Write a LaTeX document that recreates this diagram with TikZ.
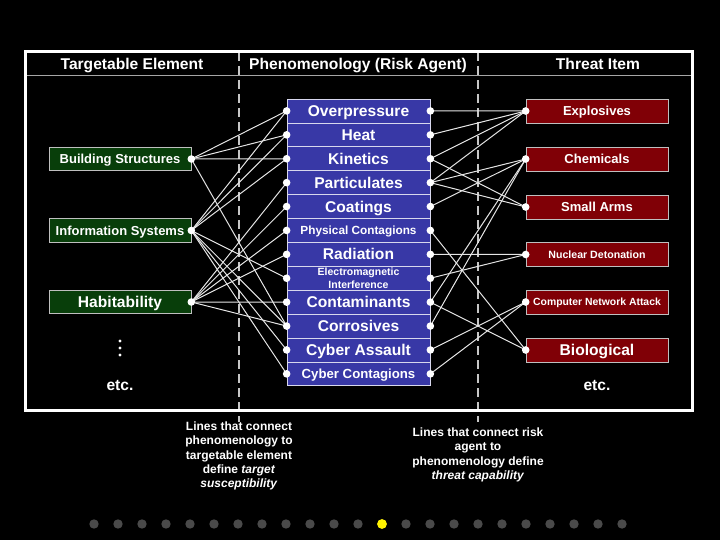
\documentclass[tikz,border=0pt]{standalone}
\usepackage{fontspec}
\setmainfont{Liberation Sans}
\definecolor{phblue}{RGB}{56,56,166}
\definecolor{tgreen}{RGB}{8,62,10}
\definecolor{tred}{RGB}{128,0,6}
\definecolor{dotgray}{RGB}{74,74,74}
\begin{document}
\begin{tikzpicture}[x=1pt,y=-1pt,
  fs/.style={font=\fontsize{#1}{#1}\selectfont\bfseries, text height=0.72*#1pt, text depth=0pt},
  cell/.style={draw=white!80!phblue, line width=0.7pt, fill=phblue, minimum width=143pt, minimum height=23.9pt, inner sep=0pt, text=white, align=center},
  tgt/.style={draw=white!75!black, line width=0.6pt, fill=tgreen, minimum width=142pt, minimum height=23.5pt, inner sep=0pt, text=white},
  thr/.style={draw=white!75!black, line width=0.6pt, fill=tred, minimum width=142pt, minimum height=24pt, inner sep=0pt, text=white},
  link/.style={draw=white!90!black, line width=1pt},
  hdr/.style={text=white, fs=15.6},
  note/.style={text=white, align=center, font=\fontsize{12}{14.3}\selectfont\bfseries},
  sep/.style={draw=white!78!black, line width=1.1pt, dash pattern=on 9pt off 5pt}
]
\useasboundingbox[fill=black] (0,0) rectangle (720,540);

% frame
\draw[white!65!black, line width=0.9pt] (25,75) -- (692,75);
\draw[sep] (239,52) -- (239,422);
\draw[sep] (478,52) -- (478,422);
\draw[white, line width=3pt] (25,52) rectangle (692,410);

% headers
\node[hdr] (h1) at (132,63.5) {Targetable Element};
\node[hdr] (h2) at (358,63.5) {Phenomenology (Risk Agent)};
\node[hdr] (h3) at (598,63.5) {Threat Item};

% middle column
\foreach \i/\t/\s in {1/Overpressure/15.6, 2/Heat/15.6, 3/Kinetics/15.6, 4/Particulates/15.6, 5/Coatings/15.6, 6/Physical Contagions/11.8, 7/Radiation/15.6, 9/Contaminants/15.6, 10/Corrosives/15.6, 11/Cyber Assault/15.6, 12/Cyber Contagions/13.2}{
  \node[cell, fs=\s] (P\i) at (358.5, {99+23.9*(\i-0.5)}) {\t};
}
\node[cell, font=\fontsize{10.5}{12.5}\selectfont\bfseries] (P8) at (358.5, {99+23.9*7.5}) {Electromagnetic\\Interference};

% left column
\node[tgt, fs=13] (L1) at (120,159) {Building Structures};
\node[tgt, fs=13] (L2) at (120,230.5) {Information Systems};
\node[tgt, fs=15.6] (L3) at (120,302) {Habitability};
\node[text=white, fs=15.6] (e1) at (120,385) {etc.};
\foreach \yy in {341,348,355} \fill[white] (120,\yy) circle (1.7);

% right column
\node[thr, fs=13] (T1) at (597,111) {Explosives};
\node[thr, fs=13] (T2) at (597,159) {Chemicals};
\node[thr, fs=13] (T3) at (597,207) {Small Arms};
\node[thr, fs=10.6] (T4) at (597,254.5) {Nuclear Detonation};
\node[thr, fs=10.4] (T5) at (597,302) {Computer Network Attack};
\node[thr, fs=15.6] (T6) at (597,350) {Biological};
\node[text=white, fs=15.6] (e2) at (597,385) {etc.};

% left links
\foreach \a/\b in {1/1,1/2,1/3,1/10, 2/1,2/2,2/3,2/8,2/10,2/11,2/12, 3/4,3/5,3/6,3/7,3/9,3/10}{
  \draw[link] (L\a.east) -- (P\b.west);
}
% right links
\foreach \a/\b in {1/1,2/1,3/1,4/1, 3/3,4/3, 4/2,5/2,9/2,10/2, 6/6,9/6, 7/4,8/4, 11/5,12/5}{
  \draw[link] (P\a.east) -- (T\b.west);
}

% dots
\foreach \i in {1,...,12}{
  \fill[white] (P\i.west) circle (3.8);
  \fill[white] (P\i.east) circle (3.8);
}
\foreach \i in {1,2,3} \fill[white] (L\i.east) circle (3.8);
\foreach \i in {1,...,6} \fill[white] (T\i.west) circle (3.8);

% notes
\node[note] (n1) at (239,456) {Lines that connect\\phenomenology to\\targetable element\\define \textit{target}\\\textit{susceptibility}};
\node[note] (n2) at (478,455) {Lines that connect risk\\agent to\\phenomenology define\\\textit{threat capability}};

% slide dots
\foreach \k in {0,...,22}{
  \fill[dotgray] ({94+24*\k},524) circle (4.7);
}
\fill[yellow] (382,524) circle (4.9);
\end{tikzpicture}
\end{document}
